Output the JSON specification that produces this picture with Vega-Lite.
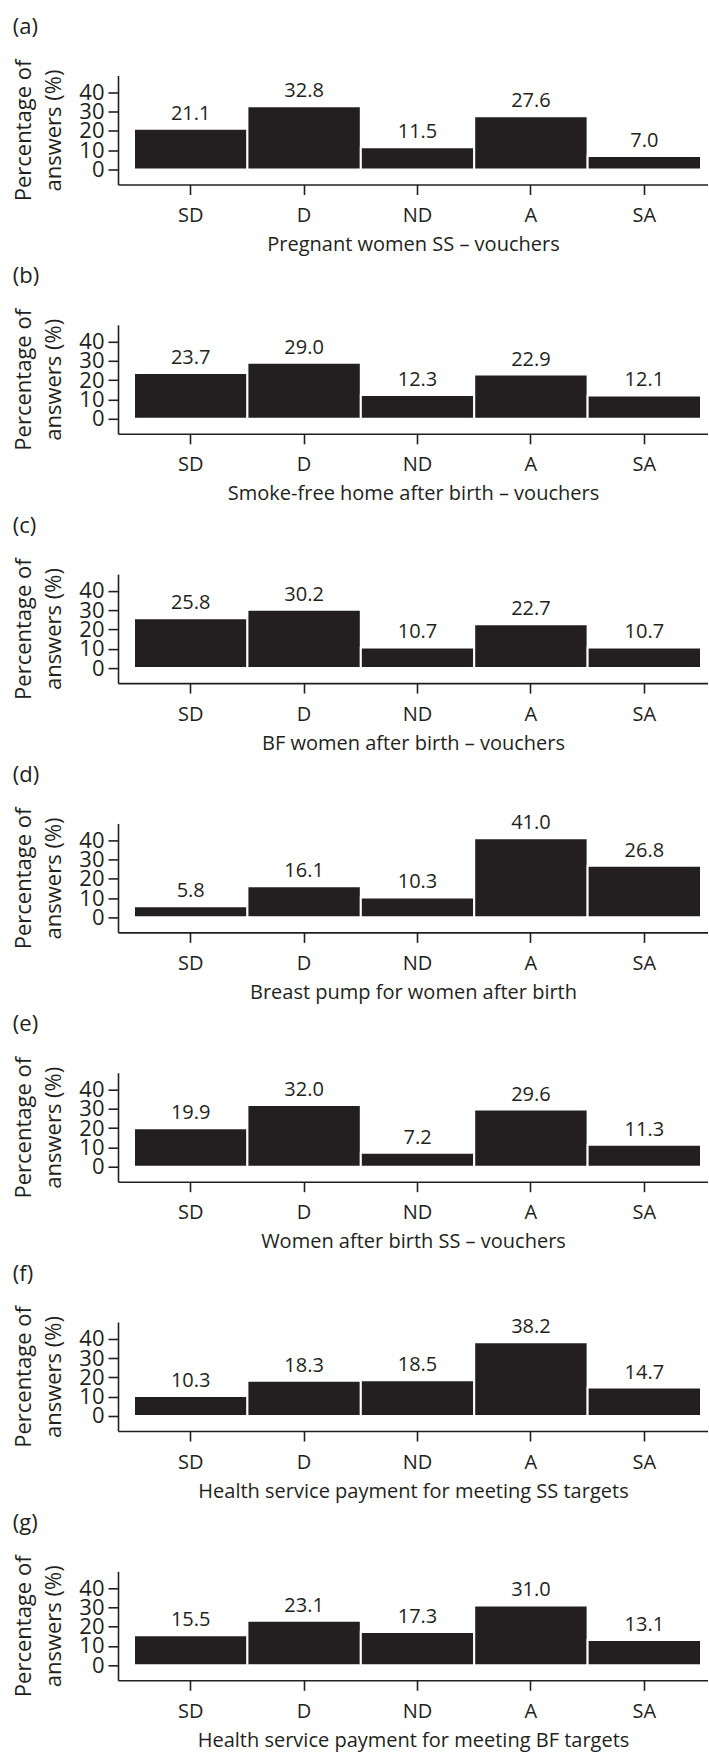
{
  "$schema": "https://vega.github.io/schema/vega-lite/v6.json",
  "padding": {"left": 12, "top": 15.5, "right": 0, "bottom": 3},
  "background": "white",
  "spacing": 10.3,
  "config": {
    "font": "Open Sans",
    "view": {"stroke": null},
    "axis": {
      "domainColor": "#231f20", "domainWidth": 1.6,
      "tickColor": "#231f20", "tickWidth": 1.6, "tickSize": 10,
      "labelColor": "#231f20", "titleColor": "#231f20",
      "grid": false, "labelFont": "Open Sans", "titleFont": "Open Sans",
      "titleFontWeight": "normal", "labelOverlap": false
    },
    "axisX": {"labelFontSize": 20, "labelPadding": 11, "titleFontSize": 20, "titlePadding": 9, "labelAngle": 0},
    "axisY": {"labelFontSize": 22, "labelPadding": 4, "titleFontSize": 22, "titlePadding": 13, "titleLineHeight": 30, "labelOverlap": false, "labelBound": false},
    "title": {"fontSize": 22, "fontWeight": "normal", "anchor": "start", "frame": "bounds", "color": "#231f20", "offset": 20, "font": "Open Sans"}
  },
  "datasets": {
    "survey": [
      {"panel": "a", "cat": "SD", "pct": 21.1}, {"panel": "a", "cat": "D", "pct": 32.8}, {"panel": "a", "cat": "ND", "pct": 11.5}, {"panel": "a", "cat": "A", "pct": 27.6}, {"panel": "a", "cat": "SA", "pct": 7.0},
      {"panel": "b", "cat": "SD", "pct": 23.7}, {"panel": "b", "cat": "D", "pct": 29.0}, {"panel": "b", "cat": "ND", "pct": 12.3}, {"panel": "b", "cat": "A", "pct": 22.9}, {"panel": "b", "cat": "SA", "pct": 12.1},
      {"panel": "c", "cat": "SD", "pct": 25.8}, {"panel": "c", "cat": "D", "pct": 30.2}, {"panel": "c", "cat": "ND", "pct": 10.7}, {"panel": "c", "cat": "A", "pct": 22.7}, {"panel": "c", "cat": "SA", "pct": 10.7},
      {"panel": "d", "cat": "SD", "pct": 5.8}, {"panel": "d", "cat": "D", "pct": 16.1}, {"panel": "d", "cat": "ND", "pct": 10.3}, {"panel": "d", "cat": "A", "pct": 41.0}, {"panel": "d", "cat": "SA", "pct": 26.8},
      {"panel": "e", "cat": "SD", "pct": 19.9}, {"panel": "e", "cat": "D", "pct": 32.0}, {"panel": "e", "cat": "ND", "pct": 7.2}, {"panel": "e", "cat": "A", "pct": 29.6}, {"panel": "e", "cat": "SA", "pct": 11.3},
      {"panel": "f", "cat": "SD", "pct": 10.3}, {"panel": "f", "cat": "D", "pct": 18.3}, {"panel": "f", "cat": "ND", "pct": 18.5}, {"panel": "f", "cat": "A", "pct": 38.2}, {"panel": "f", "cat": "SA", "pct": 14.7},
      {"panel": "g", "cat": "SD", "pct": 15.5}, {"panel": "g", "cat": "D", "pct": 23.1}, {"panel": "g", "cat": "ND", "pct": 17.3}, {"panel": "g", "cat": "A", "pct": 31.0}, {"panel": "g", "cat": "SA", "pct": 13.1}
    ]
  },
  "vconcat": [
    {"title": "(a)", "width": 590, "height": 109, "data": {"name": "survey"}, "transform": [{"filter": "datum.panel == 'a'"}],
     "encoding": {
       "x": {"field": "cat", "type": "nominal", "sort": ["SD", "D", "ND", "A", "SA"], "scale": {"paddingInner": 0, "paddingOuter": 0.1014, "align": 0.696}, "axis": {"title": "Pregnant women SS – vouchers"}},
       "y": {"field": "pct", "type": "quantitative", "scale": {"domain": [-7.8, 48.7], "nice": false, "zero": false}, "axis": {"values": [0, 10, 20, 30, 40], "title": ["Percentage of", "answers (%)"]}}
     },
     "layer": [
       {"mark": {"type": "bar", "color": "#231f20", "stroke": "white", "strokeWidth": 2}, "encoding": {"y2": {"datum": 0}}},
       {"mark": {"type": "text", "baseline": "alphabetic", "dy": -9, "fontSize": 20, "color": "#231f20"}, "encoding": {"text": {"field": "pct", "type": "quantitative", "format": ".1f"}}}
     ]},
    {"title": "(b)", "width": 590, "height": 109, "data": {"name": "survey"}, "transform": [{"filter": "datum.panel == 'b'"}],
     "encoding": {
       "x": {"field": "cat", "type": "nominal", "sort": ["SD", "D", "ND", "A", "SA"], "scale": {"paddingInner": 0, "paddingOuter": 0.1014, "align": 0.696}, "axis": {"title": "Smoke-free home after birth – vouchers"}},
       "y": {"field": "pct", "type": "quantitative", "scale": {"domain": [-7.8, 48.7], "nice": false, "zero": false}, "axis": {"values": [0, 10, 20, 30, 40], "title": ["Percentage of", "answers (%)"]}}
     },
     "layer": [
       {"mark": {"type": "bar", "color": "#231f20", "stroke": "white", "strokeWidth": 2}, "encoding": {"y2": {"datum": 0}}},
       {"mark": {"type": "text", "baseline": "alphabetic", "dy": -9, "fontSize": 20, "color": "#231f20"}, "encoding": {"text": {"field": "pct", "type": "quantitative", "format": ".1f"}}}
     ]},
    {"title": "(c)", "width": 590, "height": 109, "data": {"name": "survey"}, "transform": [{"filter": "datum.panel == 'c'"}],
     "encoding": {
       "x": {"field": "cat", "type": "nominal", "sort": ["SD", "D", "ND", "A", "SA"], "scale": {"paddingInner": 0, "paddingOuter": 0.1014, "align": 0.696}, "axis": {"title": "BF women after birth – vouchers"}},
       "y": {"field": "pct", "type": "quantitative", "scale": {"domain": [-7.8, 48.7], "nice": false, "zero": false}, "axis": {"values": [0, 10, 20, 30, 40], "title": ["Percentage of", "answers (%)"]}}
     },
     "layer": [
       {"mark": {"type": "bar", "color": "#231f20", "stroke": "white", "strokeWidth": 2}, "encoding": {"y2": {"datum": 0}}},
       {"mark": {"type": "text", "baseline": "alphabetic", "dy": -9, "fontSize": 20, "color": "#231f20"}, "encoding": {"text": {"field": "pct", "type": "quantitative", "format": ".1f"}}}
     ]},
    {"title": "(d)", "width": 590, "height": 109, "data": {"name": "survey"}, "transform": [{"filter": "datum.panel == 'd'"}],
     "encoding": {
       "x": {"field": "cat", "type": "nominal", "sort": ["SD", "D", "ND", "A", "SA"], "scale": {"paddingInner": 0, "paddingOuter": 0.1014, "align": 0.696}, "axis": {"title": "Breast pump for women after birth"}},
       "y": {"field": "pct", "type": "quantitative", "scale": {"domain": [-7.8, 48.7], "nice": false, "zero": false}, "axis": {"values": [0, 10, 20, 30, 40], "title": ["Percentage of", "answers (%)"]}}
     },
     "layer": [
       {"mark": {"type": "bar", "color": "#231f20", "stroke": "white", "strokeWidth": 2}, "encoding": {"y2": {"datum": 0}}},
       {"mark": {"type": "text", "baseline": "alphabetic", "dy": -9, "fontSize": 20, "color": "#231f20"}, "encoding": {"text": {"field": "pct", "type": "quantitative", "format": ".1f"}}}
     ]},
    {"title": "(e)", "width": 590, "height": 109, "data": {"name": "survey"}, "transform": [{"filter": "datum.panel == 'e'"}],
     "encoding": {
       "x": {"field": "cat", "type": "nominal", "sort": ["SD", "D", "ND", "A", "SA"], "scale": {"paddingInner": 0, "paddingOuter": 0.1014, "align": 0.696}, "axis": {"title": "Women after birth SS – vouchers"}},
       "y": {"field": "pct", "type": "quantitative", "scale": {"domain": [-7.8, 48.7], "nice": false, "zero": false}, "axis": {"values": [0, 10, 20, 30, 40], "title": ["Percentage of", "answers (%)"]}}
     },
     "layer": [
       {"mark": {"type": "bar", "color": "#231f20", "stroke": "white", "strokeWidth": 2}, "encoding": {"y2": {"datum": 0}}},
       {"mark": {"type": "text", "baseline": "alphabetic", "dy": -9, "fontSize": 20, "color": "#231f20"}, "encoding": {"text": {"field": "pct", "type": "quantitative", "format": ".1f"}}}
     ]},
    {"title": "(f)", "width": 590, "height": 109, "data": {"name": "survey"}, "transform": [{"filter": "datum.panel == 'f'"}],
     "encoding": {
       "x": {"field": "cat", "type": "nominal", "sort": ["SD", "D", "ND", "A", "SA"], "scale": {"paddingInner": 0, "paddingOuter": 0.1014, "align": 0.696}, "axis": {"title": "Health service payment for meeting SS targets"}},
       "y": {"field": "pct", "type": "quantitative", "scale": {"domain": [-7.8, 48.7], "nice": false, "zero": false}, "axis": {"values": [0, 10, 20, 30, 40], "title": ["Percentage of", "answers (%)"]}}
     },
     "layer": [
       {"mark": {"type": "bar", "color": "#231f20", "stroke": "white", "strokeWidth": 2}, "encoding": {"y2": {"datum": 0}}},
       {"mark": {"type": "text", "baseline": "alphabetic", "dy": -9, "fontSize": 20, "color": "#231f20"}, "encoding": {"text": {"field": "pct", "type": "quantitative", "format": ".1f"}}}
     ]},
    {"title": "(g)", "width": 590, "height": 109, "data": {"name": "survey"}, "transform": [{"filter": "datum.panel == 'g'"}],
     "encoding": {
       "x": {"field": "cat", "type": "nominal", "sort": ["SD", "D", "ND", "A", "SA"], "scale": {"paddingInner": 0, "paddingOuter": 0.1014, "align": 0.696}, "axis": {"title": "Health service payment for meeting BF targets"}},
       "y": {"field": "pct", "type": "quantitative", "scale": {"domain": [-7.8, 48.7], "nice": false, "zero": false}, "axis": {"values": [0, 10, 20, 30, 40], "title": ["Percentage of", "answers (%)"]}}
     },
     "layer": [
       {"mark": {"type": "bar", "color": "#231f20", "stroke": "white", "strokeWidth": 2}, "encoding": {"y2": {"datum": 0}}},
       {"mark": {"type": "text", "baseline": "alphabetic", "dy": -9, "fontSize": 20, "color": "#231f20"}, "encoding": {"text": {"field": "pct", "type": "quantitative", "format": ".1f"}}}
     ]}
  ]
}
